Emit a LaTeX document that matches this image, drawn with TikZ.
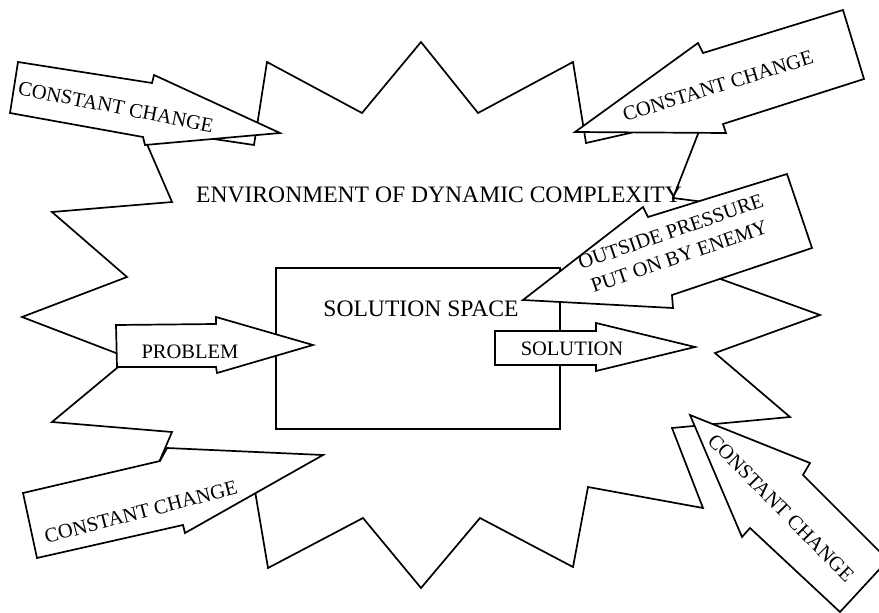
\documentclass[tikz,border=0pt]{standalone}
\usepackage{fontspec}
\setmainfont{Liberation Serif}
\begin{document}
\begin{tikzpicture}[x=1pt,y=-1pt,
  outline/.style={draw=black,line width=1.7pt,line join=miter,fill=white},
  big/.style={font=\fontsize{23.6}{26}\selectfont,inner sep=0pt},
  lbl/.style={font=\fontsize{20.5}{23}\selectfont,inner sep=0pt,align=center},
]
\useasboundingbox (0,0) rectangle (879,613);
\clip (0,0) rectangle (879,613);
% starburst environment
\draw[outline] (22,317) -- (127,277) -- (52,212) -- (172,202) -- (140,128) -- (254,145)
  -- (267,62) -- (362,113) -- (421,42) -- (478,113) -- (573,62) -- (586,143)
  -- (705,116) -- (673,198) -- (790,213) -- (715,277) -- (820,315) -- (715,353)
  -- (790,417) -- (672,428) -- (703,508) -- (588,487) -- (573,567) -- (480,518)
  -- (421,588) -- (363,518) -- (268,568) -- (254,485) -- (142,502) -- (172,432)
  -- (52,422) -- (129,358) -- cycle;
% solution space box
\draw[outline] (276,268) rectangle (560,429);
\node[big] (env) at (439,195) {ENVIRONMENT OF DYNAMIC COMPLEXITY};
\node[big] (space) at (421,308.5) {SOLUTION SPACE};
% problem arrow
\draw[outline] (116,325) -- (216,324) -- (216,317) -- (313,345) -- (217,373) -- (216,367) -- (117,367) -- cycle;
\node[lbl] (problem) at (190,352) {PROBLEM};
% solution arrow
\draw[outline] (495,331) -- (596,331) -- (596,323) -- (695,347) -- (596,371) -- (596,365) -- (495,365) -- cycle;
\node[lbl] (solution) at (572,349) {SOLUTION};
% outside pressure arrow
\draw[outline] (523,300) -- (643,207) -- (648,217) -- (787,174) -- (812,248) -- (672,295) -- (673,308) -- cycle;
\node[lbl,rotate=19] (enemy) at (675,244) {OUTSIDE PRESSURE\\[3pt]PUT ON BY ENEMY};
% top-left constant change
\draw[outline] (18,62) -- (152,83) -- (154,75) -- (280,133) -- (145,145) -- (143,137) -- (10,113) -- cycle;
\node[lbl,rotate=-11] (cc1) at (116,107) {CONSTANT CHANGE};
% top-right constant change
\draw[outline] (575,132) -- (698,43) -- (703,53) -- (843,10) -- (864,79) -- (723,124) -- (726,133) -- cycle;
\node[lbl,rotate=17.3] (cc2) at (718,86) {CONSTANT CHANGE};
% bottom-left constant change
\draw[outline] (23,493) -- (160,461) -- (167,448) -- (323,455) -- (185,533) -- (183,525) -- (37,558) -- cycle;
\node[lbl,rotate=14.5] (cc3) at (141,512) {CONSTANT CHANGE};
% bottom-right constant change
\draw[outline] (690,415) -- (810,463) -- (803,475) -- (888,560) -- (840,612) -- (750,528) -- (742,537) -- cycle;
\node[lbl,rotate=-45.4] (cc4) at (781,508) {CONSTANT CHANGE};
\end{tikzpicture}
\end{document}
